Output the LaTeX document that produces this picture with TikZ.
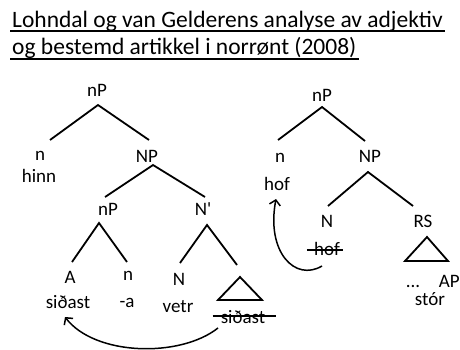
\documentclass[tikz,border=0pt]{standalone}
\usepackage{fontspec}
\setmainfont{Carlito}
\usetikzlibrary{arrows.meta,calc}
\begin{document}
\begin{tikzpicture}[x=1pt,y=-1pt,
  lab/.style={font=\fontsize{19}{19}\selectfont, anchor=base, inner sep=0pt},
  ttl/.style={font=\fontsize{23.5}{23.5}\selectfont, anchor=base west, inner sep=0pt},
  branch/.style={line width=1.8pt},
  tri/.style={line width=1.8pt, line join=miter},
  strike/.style={line width=1.4pt},
  move/.style={line width=1.5pt, -{Straight Barb[length=5pt,width=11pt,line width=1.5pt]}}]
\useasboundingbox (0,0) rectangle (460,350);

% title with underlines
\node[ttl] (t1) at (12,28) {Lohndal og van Gelderens analyse av adjektiv};
\node[ttl] (t2) at (12,55) {og bestemd artikkel i norrønt (2008)};
\draw[line width=1.6pt] ($(t1.base west)+(-2,3)$) -- ($(t1.base east)+(2,3)$);
\draw[line width=1.6pt] ($(t2.base west)+(-2,4)$) -- ($(t2.base east)+(2,4)$);

% ---- left tree ----
\node[lab] (L0) at (97,97) {nP};
\node[lab] (Ln) at (40,160) {n};
\node[lab] (Lhinn) at (39,182) {hinn};
\node[lab] (LNP) at (147,162) {NP};
\node[lab] (LnP) at (108,215) {nP};
\node[lab] (LNb) at (203,215) {N\textquotesingle};
\node[lab] (LA) at (70,283) {A};
\node[lab] (Lsid) at (68,308) {siðast};
\node[lab] (Lnn) at (128,280) {n};
\node[lab] (La) at (127,307) {-a};
\node[lab] (LN) at (179,285) {N};
\node[lab] (Lvetr) at (178,312) {vetr};
\node[lab] (Lsid2) at (243,323) {siðast};

\coordinate (L0a) at (98,105);
\coordinate (L0l) at (50,140);
\coordinate (L0r) at (149,140);
\coordinate (LNPa) at (153,165);
\coordinate (LNPl) at (105,197);
\coordinate (LNPr) at (205,197);
\coordinate (LnPa) at (99,223);
\coordinate (LnPl) at (72,262);
\coordinate (LnPr) at (127,262);
\coordinate (LNba) at (207,225);
\coordinate (LNbl) at (180,263);
\coordinate (LNbr) at (237,265);

\draw[branch] (L0l) -- (L0a) -- (L0r);
\draw[branch] (LNPl) -- (LNPa) -- (LNPr);
\draw[branch] (LnPl) -- (LnPa) -- (LnPr);
\draw[branch] (LNbl) -- (LNba) -- (LNbr);
\draw[tri] (240,277) -- (218,300) -- (262,300) -- cycle;
\draw[strike] ($(Lsid2.base west)+(-8,-7)$) -- ($(Lsid2.base east)+(11,-7)$);

\coordinate (Lfrom) at (218,328);
\coordinate (Lto) at (65,317);
\draw[move] (Lfrom) .. controls (180,358) and (95,356) .. (Lto);

% ---- right tree ----
\node[lab] (R0) at (322,102) {nP};
\node[lab] (Rn) at (280,162) {n};
\node[lab] (Rhof) at (277,190) {hof};
\node[lab] (RNP) at (370,162) {NP};
\node[lab] (RN) at (327,227) {N};
\node[lab] (Rhof2) at (327,255) {hof};
\node[lab] (RRS) at (423,227) {RS};
\node[lab] (Rdots) at (413,287) {...};
\node[lab, anchor=base east] (RAP) at (460,287) {AP};
\node[lab] (Rstor) at (430,305) {stór};

\coordinate (R0a) at (322,107);
\coordinate (R0l) at (278,140);
\coordinate (R0r) at (365,141);
\coordinate (RNPa) at (368,172);
\coordinate (RNPl) at (328,206);
\coordinate (RNPr) at (413,206);

\draw[branch] (R0l) -- (R0a) -- (R0r);
\draw[branch] (RNPl) -- (RNPa) -- (RNPr);
\draw[tri] (427,237) -- (405,261) -- (448,261) -- cycle;
\draw[strike] ($(Rhof2.base west)+(-7,-5)$) -- ($(Rhof2.base east)+(3,-5)$);

\coordinate (Rfrom) at (322,266);
\coordinate (Rto) at (276,199);
\draw[move] (Rfrom) .. controls (295,282) and (266,252) .. (Rto);
\end{tikzpicture}
\end{document}
